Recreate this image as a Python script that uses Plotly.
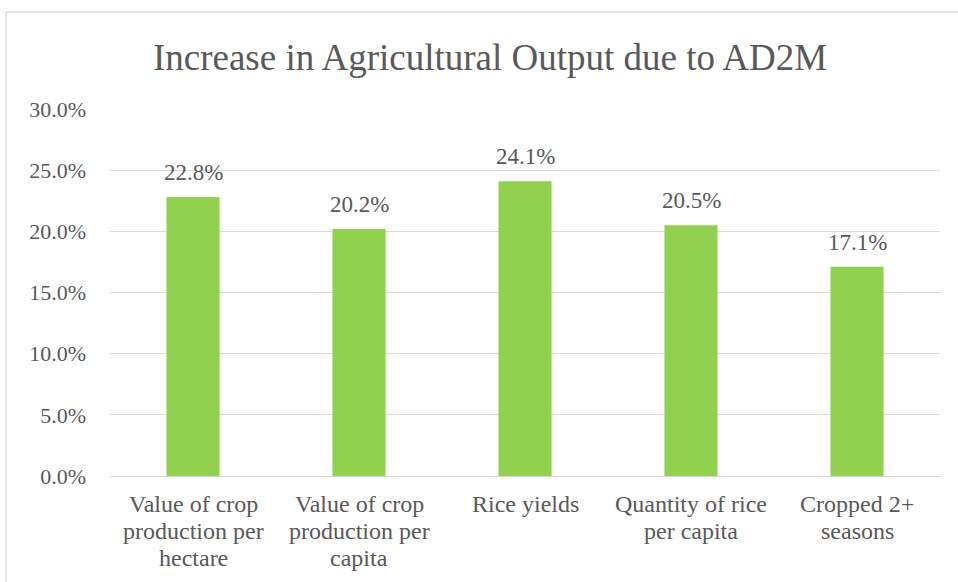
import plotly.graph_objects as go

categories = [
    "Value of crop<br>production per<br>hectare",
    "Value of crop<br>production per<br>capita",
    "Rice yields",
    "Quantity of rice<br>per capita",
    "Cropped 2+<br>seasons",
]
values = [0.228, 0.202, 0.241, 0.205, 0.171]
tick_vals = [0, 0.05, 0.10, 0.15, 0.20, 0.25, 0.30]
tick_text = ["0.0%", "5.0%", "10.0%", "15.0%", "20.0%", "25.0%", "30.0%"]
title_text = "Increase in Agricultural Output due to AD2M"

FONT = "Liberation Serif, Times New Roman, serif"
GREY = "#595959"
GRID = "#D9D9D9"

W, H = 958, 582
ml, mr, mt, mb = 110, 18, 109, 106
pw, ph = W - ml - mr, H - mt - mb

fig = go.Figure()
fig.add_trace(go.Bar(
    x=categories, y=values,
    marker=dict(color="#92D050", line=dict(width=0)),
    hoverinfo="skip",
))

# value labels
for c, v in zip(categories, values):
    fig.add_annotation(
        x=c, y=v, text=f"{v*100:.1f}%", showarrow=False,
        xref="x", yref="y", yanchor="bottom", yshift=10,
        font=dict(family=FONT, size=23, color=GREY),
    )

# category labels (one annotation per line for tighter line spacing)
LINE_H = 27
for c in categories:
    for i, line in enumerate(c.split("<br>")):
        fig.add_annotation(
            x=c, y=0, text=line, showarrow=False,
            xref="x", yref="y", yanchor="top", yshift=-13 - LINE_H * i,
            font=dict(family=FONT, size=24, color=GREY),
        )

# chart border (left and top edges visible)
bx = (6 - ml) / pw
by = 1 + (mt - 12) / ph
fig.add_shape(type="line", xref="paper", yref="paper",
              x0=bx, x1=(W + 20 - ml) / pw, y0=by, y1=by,
              line=dict(color=GRID, width=1.5))
fig.add_shape(type="line", xref="paper", yref="paper",
              x0=bx, x1=bx, y0=by, y1=-(mb + 20) / ph,
              line=dict(color=GRID, width=1.5))

fig.update_layout(
    width=W, height=H,
    margin=dict(l=ml, r=mr, t=mt, b=mb),
    paper_bgcolor="white", plot_bgcolor="white",
    bargap=0.68,
    showlegend=False,
    title=dict(text=title_text, x=490 / W, xanchor="center", xref="container",
               y=1 - 57 / H, yanchor="middle", yref="container",
               font=dict(family=FONT, size=37, color=GREY)),
    xaxis=dict(showgrid=False, showline=True, linecolor=GRID, linewidth=1,
               ticks="", showticklabels=False, fixedrange=True),
    yaxis=dict(range=[0, 0.30], tickvals=tick_vals, ticktext=tick_text,
               showgrid=True, gridcolor=GRID, gridwidth=1,
               zeroline=True, zerolinecolor=GRID, zerolinewidth=1,
               showline=False, ticks="", ticklabelstandoff=23,
               tickfont=dict(family=FONT, size=22, color=GREY),
               fixedrange=True),
)

fig.write_html("out.html")
